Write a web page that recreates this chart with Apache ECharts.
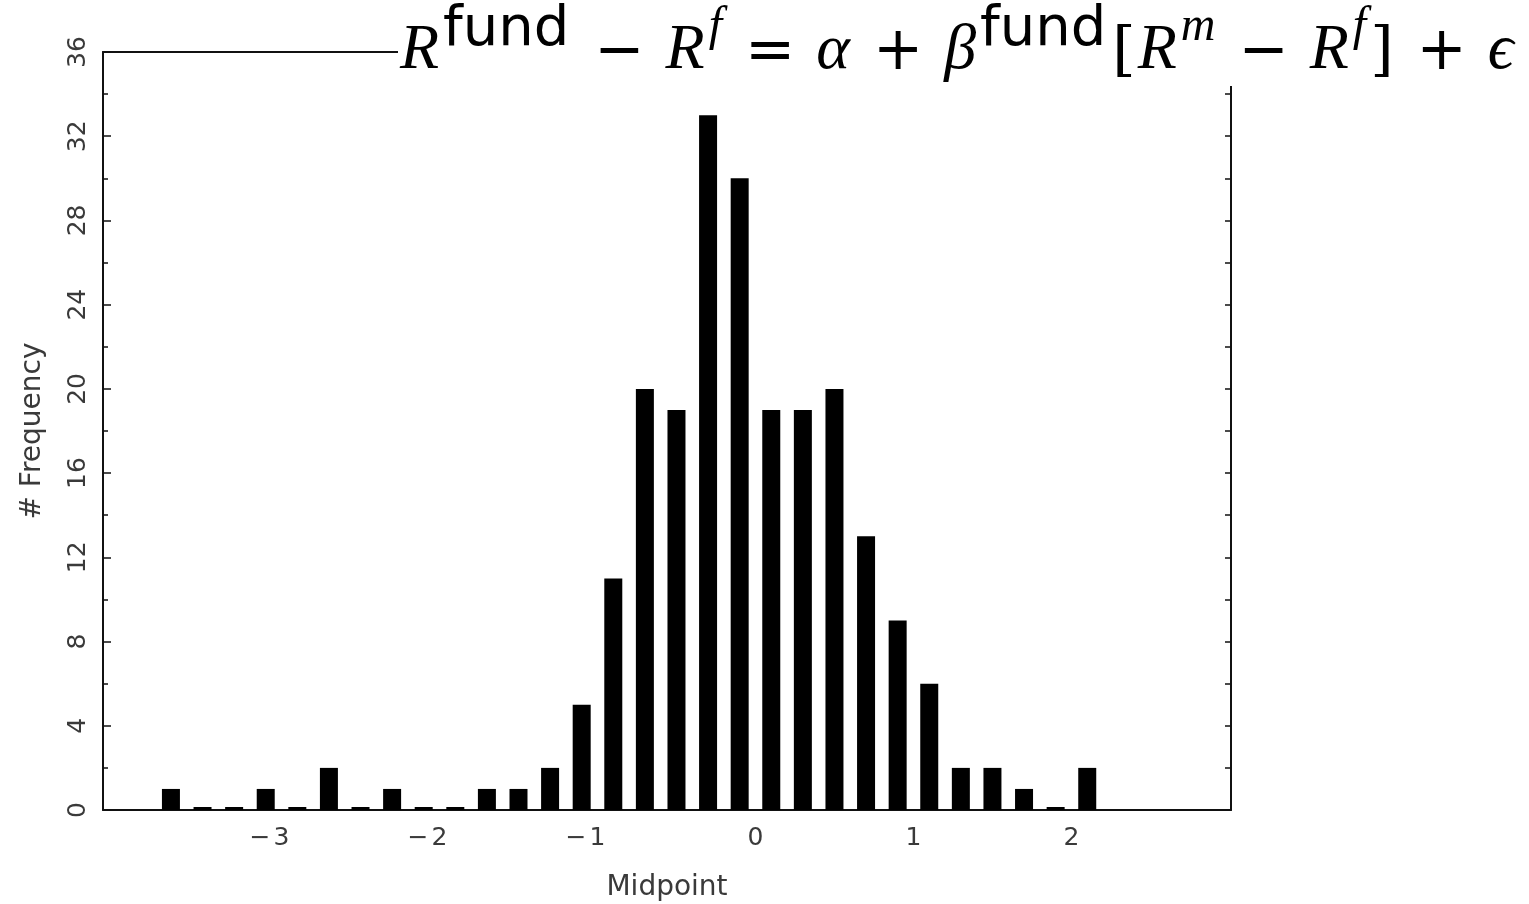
<!DOCTYPE html>
<html>
<head>
<meta charset="utf-8">
<script src="https://cdn.jsdelivr.net/npm/echarts@6/dist/echarts.min.js"></script>
<style>
  html, body { margin: 0; padding: 0; background: #fff; }
  #chart { width: 1529px; height: 904px; }
</style>
</head>
<body>
<div id="chart"></div>
<script>
// Histogram of fund residuals: bin midpoints and counts
const midpoints = [-3.7, -3.5, -3.3, -3.1, -2.9, -2.7, -2.5, -2.3, -2.1, -1.9,
                   -1.7, -1.5, -1.3, -1.1, -0.9, -0.7, -0.5, -0.3, -0.1, 0.1,
                   0.3, 0.5, 0.7, 0.9, 1.1, 1.3, 1.5, 1.7, 1.9, 2.1];
const frequencies = [1, 0, 0, 1, 0, 2, 0, 1, 0, 0,
                     1, 1, 2, 5, 11, 20, 19, 33, 30, 19,
                     19, 20, 13, 9, 6, 2, 2, 1, 0, 2];
const xTickLabels = [-3, -2, -1, 0, 1, 2];
const yTickLabels = [0, 4, 8, 12, 16, 20, 24, 28, 32, 36];
const xLabelName = 'Midpoint';
const yLabelName = '# Frequency';

const axisColor = '#111';
const labelFont = 'DejaVu Sans';
const labelColor = '#3a3a3a';

const chart = echarts.init(document.getElementById('chart'), null, { renderer: 'canvas' });

// negative labels keep the digit centred on the tick, the minus hangs to the left
const fmtX = v => {
  const hit = xTickLabels.find(t => Math.abs(t - v) < 1e-9);
  if (hit === undefined) return '';
  return hit < 0 ? '{m|\u2212}{d|' + Math.abs(hit) + '}{h|}' : '{d|' + hit + '}';
};
const fmtY = v => (yTickLabels.some(t => Math.abs(t - v) < 1e-9) ? String(v) : '');

// equation pieces: italic symbols, upright sans superscripts, operators, brackets
const serifIt = { fontFamily: 'Liberation Serif', fontStyle: 'italic', fontSize: 64, lineHeight: 74, verticalAlign: 'bottom', color: '#000', padding: [0, 2, 0, 0] };
const supText = { fontFamily: 'DejaVu Sans', fontSize: 56, lineHeight: 74, verticalAlign: 'bottom', color: '#000', padding: [0, 4, 25, 2] };
const supIt = { fontFamily: 'Liberation Serif', fontStyle: 'italic', fontSize: 48, lineHeight: 74, verticalAlign: 'bottom', color: '#000', padding: [0, 2, 32, 2] };
const opSt = { fontFamily: 'DejaVu Sans', fontSize: 60, lineHeight: 74, verticalAlign: 'bottom', color: '#000', padding: [0, 21, 0, 21] };
const brSt = { fontFamily: 'DejaVu Serif', fontSize: 60, lineHeight: 74, verticalAlign: 'bottom', color: '#000', padding: [0, 2, 0, 2] };

const equation =
  '{r|R}{sup|fund}{op|\u2212}{r|R}{supi|f}{op|=}{r|\u03B1}{op|+}{r|\u03B2}{sup|fund}' +
  '{br|[}{r|R}{supi|m}{op|\u2212}{r|R}{supi|f}{br|]}{op|+}{r|\u03F5}';

const tickText = { fontFamily: labelFont, fontSize: 25, color: labelColor };

chart.setOption({
  backgroundColor: '#fff',
  animation: false,
  grid: { left: 103, right: 298, top: 52, bottom: 94, containLabel: false, outerBoundsMode: 'none' },
  xAxis: [
    {
      type: 'value', min: -4.13, max: 3.01, position: 'bottom',
      name: xLabelName, nameLocation: 'middle', nameGap: 64,
      nameTextStyle: { fontFamily: labelFont, fontSize: 28, color: labelColor },
      axisLine: { show: true, onZero: false, lineStyle: { color: axisColor, width: 2 } },
      axisTick: { show: false },
      splitLine: { show: false },
      axisLabel: {
        formatter: fmtX, margin: 16,
        rich: {
          m: Object.assign({ width: 24, align: 'left' }, tickText),
          d: tickText,
          h: Object.assign({ width: 24 }, tickText)
        }
      }
    },
    {
      type: 'value', min: -4.13, max: 3.01, position: 'top',
      axisLine: { show: true, onZero: false, lineStyle: { color: axisColor, width: 2 } },
      axisTick: { show: false }, axisLabel: { show: false }, splitLine: { show: false }
    }
  ],
  yAxis: [
    {
      type: 'value', min: 0, max: 36, interval: 4, position: 'left',
      name: yLabelName, nameLocation: 'middle', nameGap: 56, nameRotate: 90,
      nameTextStyle: { fontFamily: labelFont, fontSize: 28, color: labelColor },
      axisLine: { show: true, onZero: false, lineStyle: { color: axisColor, width: 2 } },
      axisTick: { show: true, inside: true, length: 8, lineStyle: { color: axisColor, width: 1.5 } },
      minorTick: { show: true, splitNumber: 2, length: 5, lineStyle: { color: axisColor, width: 1.5 } },
      splitLine: { show: false },
      axisLabel: Object.assign({ formatter: fmtY, rotate: 90, margin: 12 }, tickText)
    },
    {
      type: 'value', min: 0, max: 36, interval: 4, position: 'right',
      axisLine: { show: true, onZero: false, lineStyle: { color: axisColor, width: 2 } },
      axisTick: { show: true, inside: true, length: 6, lineStyle: { color: axisColor, width: 1.5 } },
      minorTick: { show: true, splitNumber: 2, length: 6, lineStyle: { color: axisColor, width: 1.5 } },
      splitLine: { show: false },
      axisLabel: { show: false }
    }
  ],
  series: [
    {
      type: 'bar',
      xAxisIndex: 0, yAxisIndex: 0,
      barWidth: 18,
      barMinHeight: 3,
      itemStyle: { color: '#000' },
      data: midpoints.map((m, i) => [m, frequencies[i]])
    }
  ],
  graphic: [
    {
      type: 'rect', z: 50, silent: true,
      shape: { x: 398, y: 0, width: 1131, height: 86 },
      style: { fill: '#fff' }
    },
    {
      type: 'text', z: 60, silent: true,
      left: 400, top: 2,
      style: {
        text: equation,
        rich: { r: serifIt, sup: supText, supi: supIt, op: opSt, br: brSt }
      }
    }
  ]
});
</script>
</body>
</html>
